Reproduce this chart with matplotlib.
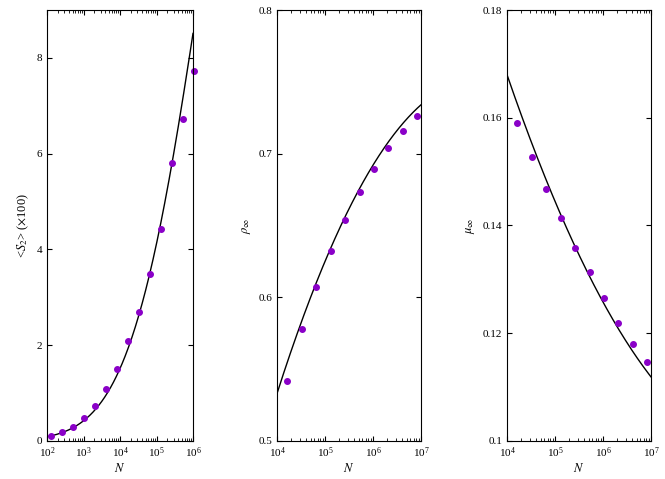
import numpy as np
import matplotlib
matplotlib.use("Agg")
import matplotlib.pyplot as plt

plt.rcParams['font.family'] = ['Liberation Serif', 'DejaVu Serif']
plt.rcParams['mathtext.fontset'] = 'stix'

# Panel 1 data
N1 = 2.0 ** np.arange(7, 21)
S2 = [0.10, 0.19, 0.29, 0.48, 0.73, 1.09, 1.51, 2.09, 2.70, 3.48, 4.42, 5.80, 6.72, 7.73]
fit1 = (-2.76, 0.975, -0.06)   # log10 y = A + B x + C x^2

# Panel 2 data
N2 = 2.0 ** np.arange(14, 24)
rho = [0.542, 0.578, 0.607, 0.632, 0.654, 0.673, 0.689, 0.704, 0.716, 0.726]
fit2 = (-0.085, 0.2045, -0.0125)

# Panel 3 data
mu = [0.159, 0.1527, 0.1468, 0.1413, 0.1358, 0.1314, 0.1265, 0.1219, 0.118, 0.1147]
fit3 = (0.310, -0.0451, 0.0024)

col = '#8a00c8'
W, H = 665, 479
fig = plt.figure(figsize=(W/100, H/100), dpi=100)

def mkax(x0, x1):
    return fig.add_axes([x0/W, 1-441/H, (x1-x0)/W, (441-10)/H])

def style(ax):
    ax.tick_params(direction='in', which='both', top=True, right=True, labelsize=8)
    ax.set_xlabel('$N$', fontsize=9, labelpad=1)

ax1 = mkax(47, 193)
x = np.linspace(2, 6, 300)
A, B, C = fit1
ax1.plot(10**x, 10**(A + B*x + C*x**2), 'k-', lw=1)
ax1.plot(N1, S2, 'o', color=col, ms=4, clip_on=False)
ax1.set_xscale('log'); ax1.set_xlim(1e2, 1e6); ax1.set_ylim(0, 9)
ax1.set_yticks([0, 2, 4, 6, 8])
ax1.set_ylabel(r'<$S_2$> ($\times$100)', fontsize=9)
style(ax1)

ax2 = mkax(277, 421)
x = np.linspace(4, 7, 300)
A, B, C = fit2
ax2.plot(10**x, A + B*x + C*x**2, 'k-', lw=1)
ax2.plot(N2, rho, 'o', color=col, ms=4, clip_on=False)
ax2.set_xscale('log'); ax2.set_xlim(1e4, 1e7); ax2.set_ylim(0.5, 0.8)
ax2.set_yticks([0.5, 0.6, 0.7, 0.8])
ax2.set_ylabel(r'$\rho_\infty$', fontsize=9)
style(ax2)

ax3 = mkax(507, 651)
A, B, C = fit3
ax3.plot(10**x, A + B*x + C*x**2, 'k-', lw=1)
ax3.plot(N2, mu, 'o', color=col, ms=4, clip_on=False)
ax3.set_xscale('log'); ax3.set_xlim(1e4, 1e7); ax3.set_ylim(0.1, 0.18)
ax3.set_yticks([0.1, 0.12, 0.14, 0.16, 0.18])
ax3.set_yticklabels(['0.1', '0.12', '0.14', '0.16', '0.18'])
ax3.set_ylabel(r'$\mu_\infty$', fontsize=9)
style(ax3)

fig.savefig('out.png', dpi=100)
